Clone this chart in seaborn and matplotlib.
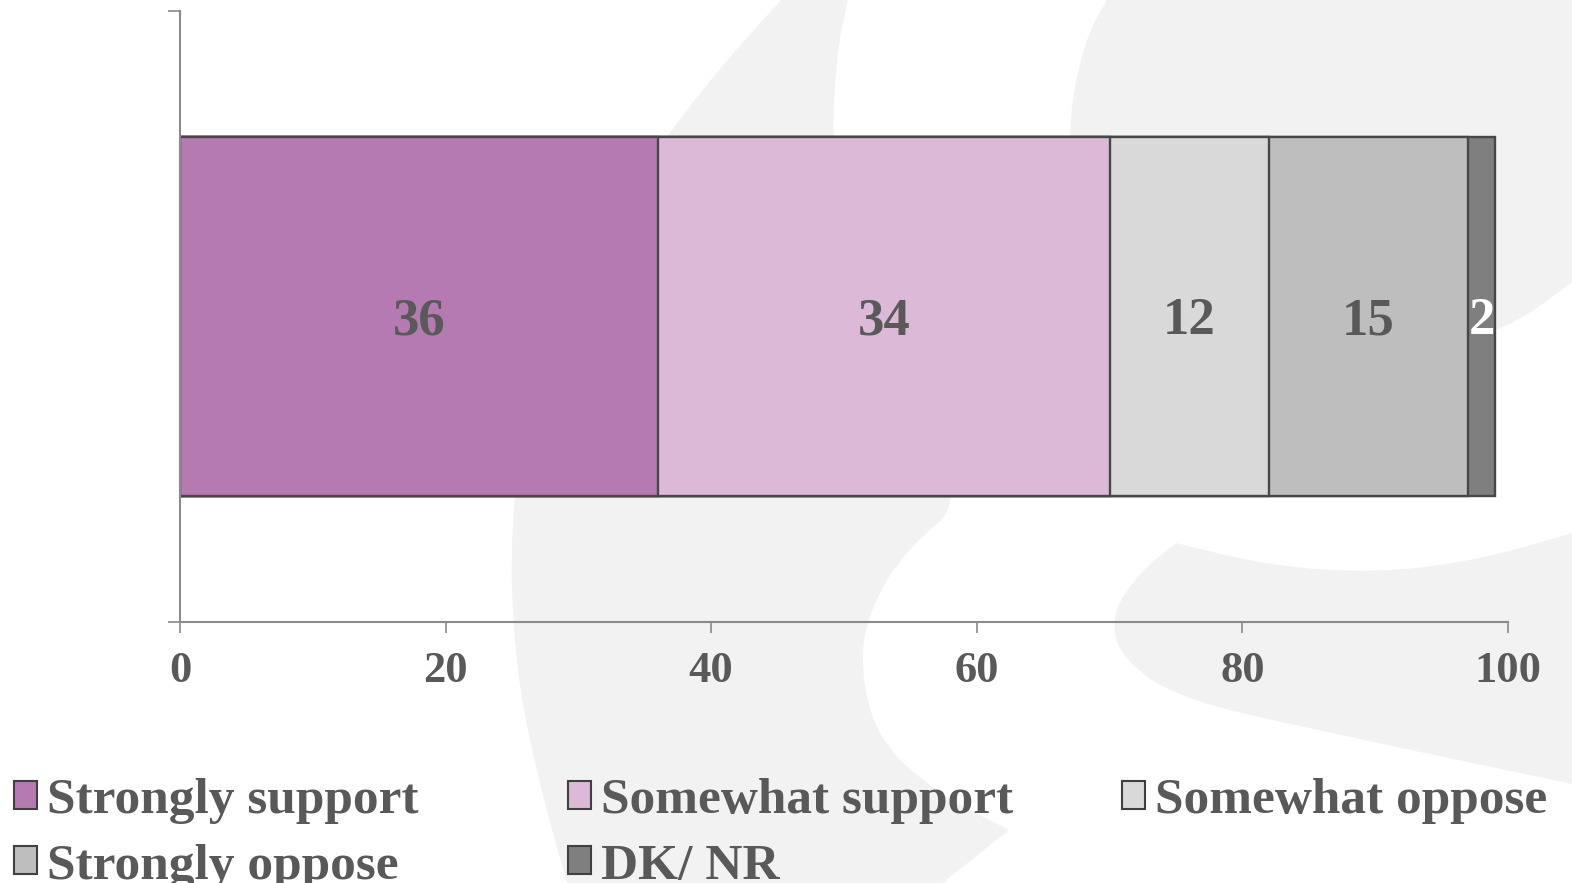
import numpy as np
import pandas as pd
import matplotlib
matplotlib.use("Agg")
import matplotlib.pyplot as plt
from matplotlib.path import Path
from matplotlib.patches import PathPatch, Patch
import seaborn as sns

# Survey responses (percent)
categories = ["Strongly support", "Somewhat support", "Somewhat oppose",
              "Strongly oppose", "DK/ NR"]
values = [36, 34, 12, 15, 2]
colors = ["#B57AB2", "#DCB9D7", "#D9D9D9", "#BFBEBF", "#7F7F7F"]
label_colors = ["#595959", "#595959", "#595959", "#595959", "white"]
xticks = [0, 20, 40, 60, 80, 100]

sns.set_theme(style="white")
plt.rcParams["font.family"] = ["Liberation Serif", "DejaVu Serif"]
plt.rcParams["font.weight"] = "bold"

W, H = 1572, 883
fig = plt.figure(figsize=(W / 100, H / 100), dpi=100)
fig.patch.set_facecolor("white")

TEXT = "#595959"
AXIS = "#8A8A8A"
EDGE = "#474747"


def blob(points):
    """Smooth closed background shape; points in pixels from the top-left.
    A repeated point gives a sharp corner."""
    pts = np.array(points, float)
    pts[:, 0] = pts[:, 0] / W
    pts[:, 1] = 1 - pts[:, 1] / H
    mids = (pts + np.roll(pts, -1, axis=0)) / 2
    verts = [mids[-1]]
    codes = [Path.MOVETO]
    for i in range(len(pts)):
        verts += [pts[i], mids[i]]
        codes += [Path.CURVE3, Path.CURVE3]
    verts.append(mids[-1])
    codes.append(Path.CLOSEPOLY)
    fig.add_artist(PathPatch(Path(verts, codes), transform=fig.transFigure,
                             facecolor="#F2F2F2", edgecolor="none", zorder=-5))


# decorative logo watermark behind the chart
blob([(790, -10), (790, -10), (700, 90), (600, 230), (530, 390), (510, 520),
      (514, 660), (538, 780), (570, 893), (570, 893), (930, 893), (930, 893),
      (1009, 830), (1009, 830), (935, 792), (878, 740), (860, 670), (868, 612),
      (905, 550), (970, 497), (880, 330), (832, 180), (835, 60), (850, -10), (850, -10)])
blob([(1112, -10), (1112, -10), (1082, 45), (1066, 140), (1085, 260), (1190, 345),
      (1350, 372), (1500, 335), (1582, 275), (1582, 275), (1582, -10), (1582, -10)])
blob([(1176, 543), (1176, 543), (1270, 566), (1378, 573), (1480, 560), (1582, 530),
      (1582, 530), (1582, 786), (1582, 786), (1316, 730), (1176, 698), (1118, 655),
      (1112, 612), (1140, 572)])

ax = fig.add_axes([180 / W, 1 - 622 / H, (1508 - 180) / W, (622 - 11) / H])
ax.set_facecolor("none")

df = pd.DataFrame({"group": [""] * len(values), "category": categories, "value": values})
df["end"] = df["value"].cumsum()
df["start"] = df["end"] - df["value"]

# stacked bar: draw cumulative totals from the longest down so each segment overlays the next
for i in reversed(range(len(df))):
    sns.barplot(data=df.iloc[[i]], x="end", y="group", orient="h", color=colors[i],
                saturation=1, width=0.588, edgecolor=EDGE, linewidth=1.7, ax=ax)

for s, v, c in zip(df["start"], df["value"], label_colors):
    ax.text(s + v / 2, 0.008, str(v), ha="center", va="center", fontsize=38,
            color=c, fontweight="bold")

ax.set_xlim(0, 100)
ax.set_ylim(0.5, -0.5)
ax.set_xticks(xticks)
ax.set_xticklabels([str(t) for t in xticks])
ax.set_yticks([-0.5, 0.5], labels=["", ""])
ax.set_xlabel("")
ax.set_ylabel("")
for side in ("top", "right"):
    ax.spines[side].set_visible(False)
for side in ("left", "bottom"):
    ax.spines[side].set_color(AXIS)
    ax.spines[side].set_linewidth(1.5)
ax.tick_params(axis="x", bottom=True, direction="out", length=8, width=1.2,
               color=AXIS, pad=13, labelsize=32, labelcolor=TEXT)
ax.tick_params(axis="y", left=True, direction="out", length=8.5, width=1.2, color=AXIS)

# legend laid out in three evenly spaced columns
handles = {c: Patch(facecolor=col, edgecolor="#404040", linewidth=1.5)
           for c, col in zip(categories, colors)}
columns = [[categories[0], categories[3]], [categories[1], categories[4]], [categories[2]]]
col_x = [14, 568, 1122]
for names, x in zip(columns, col_x):
    leg = fig.legend([handles[n] for n in names], names, loc="upper left",
                     bbox_to_anchor=(x / W, 1 - 778 / H), frameon=False,
                     fontsize=37, handlelength=0.45, handleheight=0.45,
                     handletextpad=0.2, labelspacing=0.38, borderpad=0,
                     borderaxespad=0)
    for t in leg.get_texts():
        t.set_color(TEXT)
        t.set_fontweight("bold")

fig.savefig("out.png", dpi=100)
